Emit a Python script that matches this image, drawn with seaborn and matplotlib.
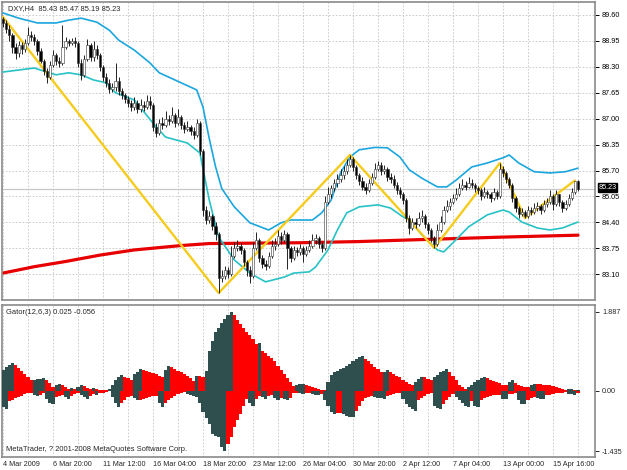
import matplotlib
matplotlib.use("Agg")
import matplotlib.pyplot as plt
import matplotlib.transforms as mtransforms
import numpy as np
import pandas as pd
import seaborn as sns

# ---- DXY H4 candles (bar index 0 = 4 Mar 2009 00:00) ----
first_open = 89.50
closes = [
    89.40, 89.25, 89.10, 88.80, 88.65, 88.85, 88.75, 88.90, 89.10, 89.05,
    88.95, 88.70, 88.45, 88.20, 88.05, 88.35, 88.60, 88.45, 88.40, 88.80,
    88.95, 88.90, 88.95, 88.90, 88.40, 88.10, 88.50, 88.85, 88.55, 88.75,
    88.60, 88.30, 88.05, 87.90, 87.75, 87.80, 87.95, 87.70, 87.60, 87.50,
    87.40, 87.30, 87.40, 87.25, 87.35, 87.30, 87.45, 87.35, 86.80, 86.65,
    86.90, 86.85, 87.00, 86.95, 87.10, 86.90, 87.05, 86.85, 86.75, 86.80,
    86.70, 86.60, 86.90, 86.20, 84.70, 84.45, 84.55, 84.30, 84.10, 83.00,
    83.05, 83.20, 83.10, 83.55, 83.75, 83.80, 83.70, 83.40, 83.20, 83.05,
    83.75, 83.95, 83.50, 83.35, 83.30, 83.55, 83.80, 83.85, 84.05, 83.95,
    84.10, 83.75, 83.50, 83.70, 83.65, 83.75, 83.60, 83.70, 83.80, 83.95,
    84.00, 83.85, 83.75, 84.90, 85.10, 85.25, 85.40, 85.50, 85.60, 85.70,
    85.85, 86.00, 85.80, 85.60, 85.45, 85.30, 85.20, 85.40, 85.55, 85.75,
    85.85, 85.70, 85.75, 85.55, 85.50, 85.35, 85.20, 85.10, 84.95, 84.50,
    84.25, 84.40, 84.35, 84.50, 84.55, 84.35, 84.20, 84.00, 83.85, 84.20,
    84.40, 84.70, 84.80, 84.90, 85.00, 85.10, 85.25, 85.35, 85.30, 85.40,
    85.35, 85.25, 85.20, 85.05, 85.15, 85.10, 85.00, 85.15, 85.05, 85.75,
    85.65, 85.50, 85.35, 85.00, 84.75, 84.60, 84.65, 84.55, 84.70, 84.65,
    84.75, 84.80, 84.70, 84.85, 84.90, 85.05, 84.85, 85.10, 84.90, 84.75,
    84.85, 85.00, 85.15, 85.43, 85.23,
]
highs = [
    89.55, 89.48, 89.35, 89.15, 88.90, 88.95, 88.92, 89.00, 89.30, 89.20,
    89.12, 89.00, 88.78, 88.50, 88.28, 88.45, 88.72, 88.65, 88.55, 89.35,
    89.05, 89.00, 89.02, 89.05, 88.95, 88.50, 88.60, 89.00, 88.90, 88.95,
    88.85, 88.65, 88.35, 88.15, 88.00, 87.90, 88.40, 88.05, 87.78, 87.65,
    87.58, 87.48, 87.55, 87.48, 87.50, 87.45, 87.60, 87.58, 87.40, 86.90,
    87.00, 87.05, 87.20, 87.10, 87.30, 87.15, 87.25, 87.10, 86.92, 86.95,
    86.85, 86.78, 87.00, 86.95, 86.25, 84.80, 84.68, 84.60, 84.40, 84.15,
    83.20, 83.30, 83.28, 83.80, 83.90, 83.95, 83.88, 83.75, 83.45, 83.30,
    83.90, 84.15, 84.00, 83.58, 83.45, 83.65, 83.95, 84.00, 84.20, 84.15,
    84.20, 84.15, 83.82, 83.80, 83.78, 83.85, 83.80, 83.82, 83.95, 84.10,
    84.10, 84.05, 83.90, 85.05, 85.30, 85.35, 85.50, 85.62, 85.75, 85.82,
    85.98, 86.09, 86.05, 85.85, 85.65, 85.55, 85.40, 85.50, 85.65, 85.88,
    85.95, 85.92, 85.85, 85.80, 85.65, 85.58, 85.42, 85.30, 85.15, 85.00,
    84.58, 84.50, 84.50, 84.65, 84.70, 84.60, 84.40, 84.25, 84.05, 84.35,
    84.55, 84.80, 84.95, 85.00, 85.10, 85.25, 85.40, 85.50, 85.45, 85.55,
    85.48, 85.40, 85.32, 85.25, 85.28, 85.22, 85.15, 85.25, 85.20, 85.89,
    85.82, 85.70, 85.55, 85.40, 85.05, 84.80, 84.75, 84.70, 84.80, 84.78,
    84.88, 84.90, 84.85, 84.95, 85.00, 85.20, 85.10, 85.20, 85.12, 84.95,
    84.95, 85.10, 85.25, 85.45, 85.47,
]
lows = [
    89.30, 89.15, 88.95, 88.65, 88.50, 88.55, 88.62, 88.68, 88.85, 88.95,
    88.85, 88.60, 88.40, 88.10, 87.90, 88.00, 88.30, 88.35, 88.30, 88.35,
    88.75, 88.82, 88.85, 88.80, 88.30, 87.98, 88.05, 88.45, 88.45, 88.45,
    88.50, 88.20, 87.95, 87.80, 87.65, 87.68, 87.70, 87.60, 87.50, 87.40,
    87.30, 87.20, 87.22, 87.15, 87.18, 87.20, 87.25, 87.25, 86.70, 86.55,
    86.60, 86.75, 86.80, 86.85, 86.90, 86.80, 86.85, 86.75, 86.65, 86.68,
    86.60, 86.50, 86.55, 86.10, 84.55, 84.35, 84.38, 84.20, 83.95, 82.63,
    82.90, 82.98, 83.00, 83.05, 83.50, 83.68, 83.60, 83.30, 83.05, 82.88,
    83.00, 83.70, 83.40, 83.25, 83.20, 83.25, 83.50, 83.72, 83.80, 83.85,
    83.90, 83.22, 83.40, 83.45, 83.55, 83.58, 83.40, 83.55, 83.65, 83.75,
    83.85, 83.75, 83.65, 83.70, 84.85, 85.00, 85.18, 85.30, 85.42, 85.50,
    85.62, 85.78, 85.70, 85.50, 85.35, 85.20, 85.10, 85.15, 85.35, 85.50,
    85.68, 85.60, 85.62, 85.45, 85.40, 85.25, 85.10, 85.00, 84.85, 84.40,
    84.10, 84.20, 84.25, 84.30, 84.40, 84.25, 84.10, 83.90, 83.76, 83.80,
    84.15, 84.35, 84.65, 84.72, 84.85, 84.95, 85.05, 85.20, 85.20, 85.25,
    85.25, 85.15, 85.10, 84.95, 85.00, 85.00, 84.92, 84.95, 84.98, 85.00,
    85.55, 85.40, 85.25, 84.90, 84.65, 84.52, 84.55, 84.51, 84.52, 84.58,
    84.60, 84.68, 84.62, 84.65, 84.78, 84.85, 84.70, 84.80, 84.80, 84.65,
    84.70, 84.80, 84.95, 85.10, 85.19,
]

# ---- Bollinger style bands ----
upper_bars = [0, 5, 11, 17, 21, 25, 30, 34, 37, 42, 47, 50, 57, 62, 64, 66, 68,
              70, 74, 79, 85, 89, 92, 99, 102, 105, 108, 111, 114, 119, 123,
              127, 130, 134, 139, 142, 145, 150, 155, 160, 162, 165, 170, 175,
              180, 184]
upper_band = [89.65, 89.52, 89.40, 89.40, 89.47, 89.52, 89.42, 89.22, 88.97,
              88.72, 88.40, 88.15, 87.90, 87.72, 87.29, 86.50, 85.80, 85.25,
              84.79, 84.39, 84.21, 84.39, 84.46, 84.46, 84.64, 84.96, 85.64,
              86.04, 86.22, 86.28, 86.27, 86.04, 85.72, 85.51, 85.29, 85.29,
              85.46, 85.79, 85.89, 86.02, 86.09, 85.89, 85.67, 85.64, 85.67,
              85.76]
lower_bars = [0, 5, 10, 14, 17, 21, 25, 29, 33, 36, 42, 48, 52, 59, 63, 66, 69,
              74, 79, 84, 90, 93, 98, 100, 104, 107, 110, 114, 120, 124, 128,
              130, 134, 139, 141, 144, 149, 155, 160, 162, 166, 171, 175, 179,
              184]
lower_band = [88.17, 88.22, 88.27, 88.17, 88.10, 88.15, 88.10, 87.97, 87.90,
              87.65, 87.47, 86.89, 86.54, 86.39, 86.14, 84.96, 84.04, 83.46,
              83.13, 82.91, 83.03, 83.13, 83.16, 83.28, 83.71, 84.21, 84.64,
              84.79, 84.84, 84.76, 84.54, 84.46, 84.09, 83.71, 83.66, 83.89,
              84.29, 84.59, 84.71, 84.66, 84.41, 84.26, 84.21, 84.26, 84.41]

# ---- slow moving average ----
ma_bars = [0, 10, 20, 31, 42, 57, 66, 80, 95, 114, 130, 159, 184]
ma_values = [83.13, 83.29, 83.42, 83.58, 83.71, 83.82, 83.87, 83.88, 83.89,
             83.92, 83.96, 84.03, 84.08]

# ---- zigzag pivots ----
zigzag_bars = [0, 69, 111, 138, 159, 167, 183]
zigzag_prices = [89.55, 82.63, 86.09, 83.76, 85.89, 84.51, 85.45]

# ---- Gator oscillator (12,6,3) ----
gator_upper = [
    0.50, 0.56, 0.62, 0.67, 0.62, 0.55, 0.48, 0.40, 0.33, 0.26,
    0.27, 0.28, 0.29, 0.30, 0.25, 0.18, 0.10, 0.13, 0.17, 0.13,
    0.09, 0.05, 0.07, 0.04, 0.10, 0.15, 0.11, 0.07, 0.04, 0.06,
    0.04, 0.03, 0.02, 0.01, 0.05, 0.15, 0.25, 0.33, 0.37, 0.34,
    0.30, 0.27, 0.40, 0.46, 0.52, 0.49, 0.47, 0.45, 0.42, 0.39,
    0.36, 0.34, 0.50, 0.60, 0.56, 0.52, 0.48, 0.44, 0.40, 0.35,
    0.30, 0.24, 0.36, 0.35, 0.33, 0.48, 0.96, 1.20, 1.40, 1.50,
    1.62, 1.72, 1.80, 1.887, 1.80, 1.70, 1.60, 1.50, 1.40, 1.32,
    1.24, 1.12, 1.14, 0.95, 0.90, 0.84, 0.78, 0.70, 0.60, 0.50,
    0.40, 0.30, 0.20, 0.12, 0.14, 0.16, 0.17, 0.15, 0.12, 0.10,
    0.07, 0.05, 0.03, 0.02, 0.20, 0.38, 0.44, 0.48, 0.52, 0.55,
    0.60, 0.65, 0.70, 0.76, 0.80, 0.82, 0.76, 0.70, 0.64, 0.58,
    0.52, 0.44, 0.46, 0.49, 0.44, 0.40, 0.36, 0.32, 0.27, 0.22,
    0.17, 0.13, 0.20, 0.28, 0.34, 0.32, 0.28, 0.25, 0.33, 0.38,
    0.44, 0.48, 0.52, 0.45, 0.35, 0.25, 0.15, 0.08, 0.05, 0.10,
    0.14, 0.20, 0.26, 0.30, 0.33, 0.30, 0.27, 0.24, 0.21, 0.18,
    0.15, 0.13, 0.20, 0.25, 0.18, 0.14, 0.11, 0.09, 0.08, 0.13,
    0.17, 0.16, 0.155, 0.15, 0.14, 0.13, 0.12, 0.08, 0.06, 0.04,
    0.03, 0.04, 0.05, 0.01, 0.025,
]
gator_lower = [
    -0.38, -0.43, -0.24, -0.22, -0.18, -0.15, -0.12, -0.08, -0.06, -0.04,
    -0.10, -0.12, -0.09, -0.06, -0.20, -0.28, -0.31, -0.15, -0.12, -0.10,
    -0.15, -0.19, -0.12, -0.08, -0.06, -0.10, -0.15, -0.19, -0.12, -0.08,
    -0.09, -0.06, -0.04, -0.02, -0.01, -0.15, -0.30, -0.38, -0.30, -0.22,
    -0.15, -0.12, -0.18, -0.23, -0.21, -0.19, -0.17, -0.15, -0.13, -0.12,
    -0.30, -0.39, -0.30, -0.22, -0.16, -0.12, -0.08, -0.05, -0.03, -0.07,
    -0.10, -0.13, -0.15, -0.30, -0.50, -0.65, -0.80, -1.02, -1.08, -1.10,
    -1.34, -1.435, -1.26, -1.10, -0.87, -0.70, -0.55, -0.35, -0.20, -0.28,
    -0.35, -0.19, -0.12, -0.15, -0.19, -0.12, -0.10, -0.16, -0.22, -0.18,
    -0.20, -0.21, -0.18, -0.06, -0.04, -0.06, -0.07, -0.05, -0.04, -0.07,
    -0.10, -0.11, -0.08, -0.23, -0.35, -0.50, -0.55, -0.53, -0.52, -0.56,
    -0.60, -0.62, -0.63, -0.47, -0.35, -0.25, -0.18, -0.15, -0.12, -0.14,
    -0.16, -0.18, -0.19, -0.12, -0.10, -0.08, -0.06, -0.05, -0.20, -0.31,
    -0.38, -0.44, -0.47, -0.23, -0.16, -0.12, -0.08, -0.06, -0.35, -0.40,
    -0.43, -0.31, -0.22, -0.14, -0.08, -0.15, -0.23, -0.30, -0.36, -0.39,
    -0.25, -0.35, -0.39, -0.23, -0.17, -0.14, -0.12, -0.11, -0.10, -0.09,
    -0.19, -0.20, -0.08, -0.07, -0.06, -0.23, -0.31, -0.32, -0.23, -0.16,
    -0.14, -0.17, -0.19, -0.20, -0.11, -0.09, -0.07, -0.06, -0.05, -0.04,
    -0.03, -0.07, -0.08, -0.10, -0.056,
]

time_labels = ["4 Mar 2009", "6 Mar 20:00", "11 Mar 12:00", "16 Mar 04:00",
               "18 Mar 20:00", "23 Mar 12:00", "26 Mar 04:00", "30 Mar 20:00",
               "2 Apr 12:00", "7 Apr 04:00", "13 Apr 00:00", "15 Apr 16:00"]
price_ticks = [89.60, 88.95, 88.30, 87.65, 87.00, 86.35, 85.70, 85.05, 84.40,
               83.75, 83.10, 82.45]
gator_ticks = [1.887, 0.0, -1.435]
gator_tick_labels = ["1.887", "0.00", "-1.435"]

FS = 5.2
sns.set_style("white")
plt.rcParams["font.family"] = ["Liberation Sans", "DejaVu Sans"]
plt.rcParams["font.size"] = FS

W, H = 627, 470
fig = plt.figure(figsize=(W / 100, H / 100), dpi=100)
ax = fig.add_axes([2 / W, 170 / H, 593 / W, 298 / H])
axg = fig.add_axes([2 / W, 13 / H, 593 / W, 152 / H], sharex=ax)

bars = np.arange(len(closes))
opens = np.array([first_open] + closes[:-1])
closes_a = np.array(closes)
grid_kw = dict(color="#c4c4c4", linestyle=(0, (2, 2)), linewidth=0.6)

# main chart
for a in (ax, axg):
    a.set_xticks(np.arange(0, 177, 16))
    a.set_xticks(np.arange(8, 190, 16), minor=True)
    a.grid(True, which="both", axis="x", **grid_kw)
    a.set_axisbelow(True)
    for sp in a.spines.values():
        sp.set_color("#8a8a8a")
        sp.set_linewidth(1.2)
ax.set_yticks(price_ticks)
ax.grid(True, which="major", axis="y", **grid_kw)

last_close = closes[-1]
ax.axhline(last_close, color="#c8c8c8", linewidth=0.9, zorder=1)

sns.lineplot(x=ma_bars, y=ma_values, ax=ax, color="#e80000", linewidth=2.3,
             zorder=2)
sns.lineplot(x=upper_bars, y=upper_band, ax=ax, color="#1aa6de",
             linewidth=1.2, zorder=3)
sns.lineplot(x=lower_bars, y=lower_band, ax=ax, color="#27c2c6",
             linewidth=1.2, zorder=3)
sns.lineplot(x=zigzag_bars, y=zigzag_prices, ax=ax, color="#f5cb1c",
             linewidth=1.7, zorder=4, sort=False)

ax.vlines(bars, lows, highs, color="black", linewidth=0.6, zorder=5)
faces = np.where(closes_a >= opens, "white", "black")
ax.bar(bars, closes_a - opens, bottom=opens, width=0.72, color=faces,
       edgecolor="#333333", linewidth=0.4, zorder=6)

ax.set_xlim(-0.32, 189.44)
ax.set_ylim(82.455, 89.925)
ax.yaxis.tick_right()
ax.tick_params(axis="y", direction="out", length=3, width=0.7, pad=2,
               colors="black", labelsize=FS)
ax.set_yticklabels([f"{v:.2f}" for v in price_ticks])
ax.tick_params(axis="x", which="both", length=0, labelbottom=False)
ax.text(0.01, 0.99, "DXY,H4  85.43 85.47 85.19 85.23", transform=ax.transAxes,
        ha="left", va="top", fontsize=FS + 0.2)
trans = mtransforms.blended_transform_factory(ax.transAxes, ax.transData)
ax.text(1.006, last_close + 0.04, f"{last_close:.2f}", transform=trans,
        ha="left", va="center", color="white", fontsize=FS, zorder=10,
        clip_on=False,
        bbox=dict(facecolor="black", edgecolor="black", pad=0.5))

# gator oscillator
def gator_colors(vals):
    mags = np.abs(np.array(vals))
    cols = ["#2f4f4f"]
    for i in range(1, len(mags)):
        cols.append("#2f4f4f" if mags[i] > mags[i - 1] else "#ff0000")
    return cols

axg.bar(bars, gator_upper, width=1.0, color=gator_colors(gator_upper),
        linewidth=0, zorder=3)
axg.bar(bars, gator_lower, width=1.0, color=gator_colors(gator_lower),
        linewidth=0, zorder=3)
axg.set_ylim(-1.578, 2.047)
axg.yaxis.tick_right()
axg.set_yticks(gator_ticks)
axg.set_yticklabels(gator_tick_labels)
axg.tick_params(axis="y", direction="out", length=3, width=0.7, pad=2,
                labelsize=FS)
axg.set_xticklabels(time_labels, ha="left")
axg.tick_params(axis="x", which="major", direction="out", length=2, width=0.7,
                pad=0.8, labelsize=FS)
axg.tick_params(axis="x", which="minor", length=0)
axg.text(0.006, 0.975, "Gator(12,6,3) 0.025 -0.056", transform=axg.transAxes,
         ha="left", va="top", fontsize=FS + 0.2)
axg.text(0.006, 0.025, "MetaTrader, ? 2001-2008 MetaQuotes Software Corp.",
         transform=axg.transAxes, ha="left", va="bottom", fontsize=FS + 0.2)
axg.set_xlabel("")
ax.set_xlabel("")
ax.set_ylabel("")
axg.set_ylabel("")

fig.savefig("out.png", dpi=100)
